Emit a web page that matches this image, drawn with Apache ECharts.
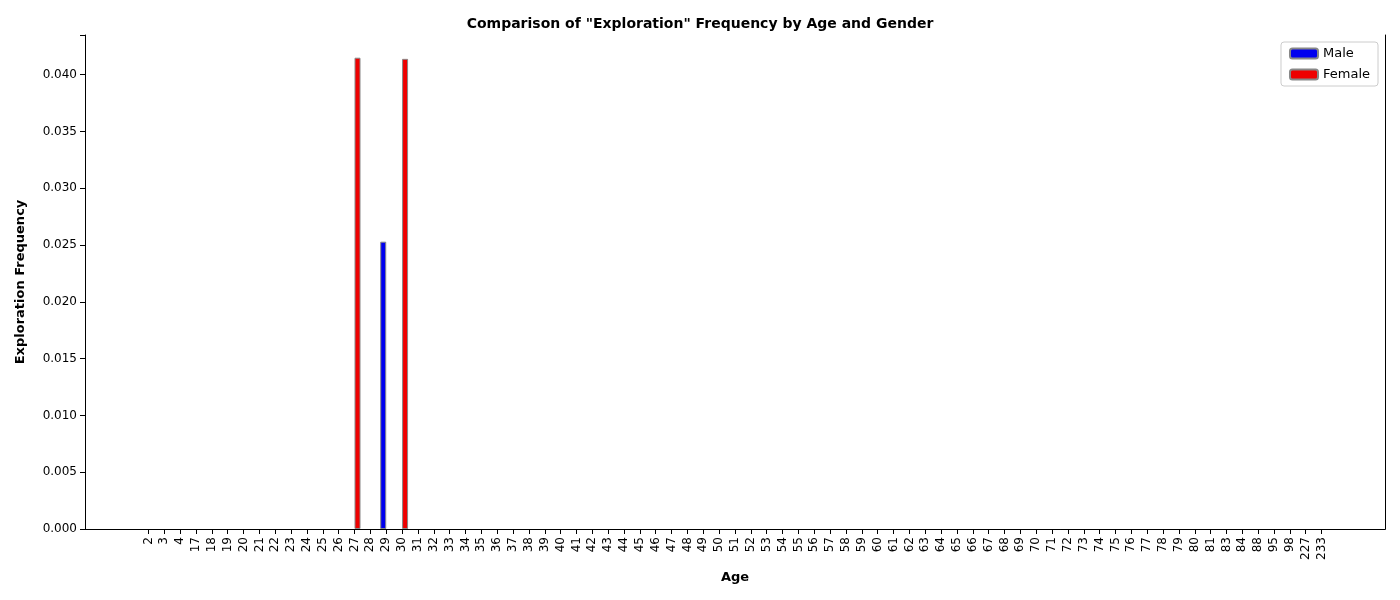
<!DOCTYPE html>
<html>
<head>
<meta charset="utf-8">
<script src="https://cdn.jsdelivr.net/npm/echarts@6/dist/echarts.min.js"></script>
<style>html,body{margin:0;padding:0;background:#fff}#chart{width:1400px;height:600px}</style>
</head>
<body>
<div id="chart"></div>
<script>
var ages = ['2','3','4','17','18','19','20','21','22','23','24','25','26','27','28','29','30','31','32','33','34','35','36','37','38','39','40','41','42','43','44','45','46','47','48','49','50','51','52','53','54','55','56','57','58','59','60','61','62','63','64','65','66','67','68','69','70','71','72','73','74','75','76','77','78','79','80','81','83','84','88','95','98','227','233'];
var maleFreq = {'29': 0.0253};
var femaleFreq = {'27': 0.0415, '30': 0.0414};

// padding categories so the axis has matplotlib-like margins
var cats = [];
for (var i = 0; i < 4; i++) cats.push('_a' + i);
cats = cats.concat(ages);
for (var j = 0; j < 4; j++) cats.push('_b' + j);

function serie(freq) {
    return cats.map(function (c) { return freq[c] !== undefined ? freq[c] : '-'; });
}
function isPad(v) { return v.charAt(0) === '_'; }

var chart = echarts.init(document.getElementById('chart'));
chart.setOption({
    animation: false,
    textStyle: { fontFamily: 'DejaVu Sans' },
    title: {
        text: 'Comparison of "Exploration" Frequency by Age and Gender',
        left: 'center', top: 12,
        textStyle: { fontSize: 14, fontWeight: 'bold', color: '#000' }
    },
    legend: {
        data: ['Male', 'Female'],
        orient: 'vertical', right: 22, top: 42,
        itemWidth: 28, itemHeight: 10, itemGap: 8,
        itemStyle: { borderRadius: 0 },
        borderColor: '#ccc', borderWidth: 1, borderRadius: 3, padding: [5, 8],
        textStyle: { fontSize: 13, color: '#000' }
    },
    grid: { left: 85, right: 15, top: 35, bottom: 71 },
    xAxis: [{
        type: 'category', data: cats, boundaryGap: false,
        name: 'Age', nameLocation: 'middle', nameGap: 42,
        nameTextStyle: { fontWeight: 'bold', fontSize: 13, color: '#000' },
        axisLine: { lineStyle: { color: '#000' } },
        axisTick: { interval: function (idx, v) { return !isPad(v); }, lineStyle: { color: '#000' } },
        axisLabel: { interval: function (idx, v) { return !isPad(v); }, rotate: 90, fontSize: 12, color: '#000', formatter: function (v) { return isPad(v) ? '' : v; } },
        splitLine: { show: false }
    }, {
        type: 'category', data: cats, position: 'top', boundaryGap: false,
        axisLine: { lineStyle: { color: '#000' } },
        axisTick: { show: false }, axisLabel: { show: false }
    }],
    yAxis: [{
        type: 'value', min: 0, max: 0.0435, interval: 0.005,
        name: 'Exploration Frequency', nameLocation: 'middle', nameGap: 58,
        nameTextStyle: { fontWeight: 'bold', fontSize: 13, color: '#000' },
        axisLine: { show: true, lineStyle: { color: '#000' } },
        axisTick: { show: true, lineStyle: { color: '#000' } },
        axisLabel: { fontSize: 12, color: '#000', formatter: function (v) { return v > 0.0434 ? '' : v.toFixed(3); } },
        splitLine: { show: false }
    }, {
        type: 'value', min: 0, max: 0.0435, position: 'right',
        axisLine: { show: true, lineStyle: { color: '#000' } },
        axisTick: { show: false }, axisLabel: { show: false }, splitLine: { show: false }
    }],
    series: [
        { name: 'Male', type: 'bar', data: serie(maleFreq), barWidth: 6, barGap: '0%',
          itemStyle: { color: '#0000ee', borderColor: '#888', borderWidth: 1 } },
        { name: 'Female', type: 'bar', data: serie(femaleFreq), barWidth: 6,
          itemStyle: { color: '#ee0000', borderColor: '#888', borderWidth: 1 } }
    ]
});
</script>
</body>
</html>
